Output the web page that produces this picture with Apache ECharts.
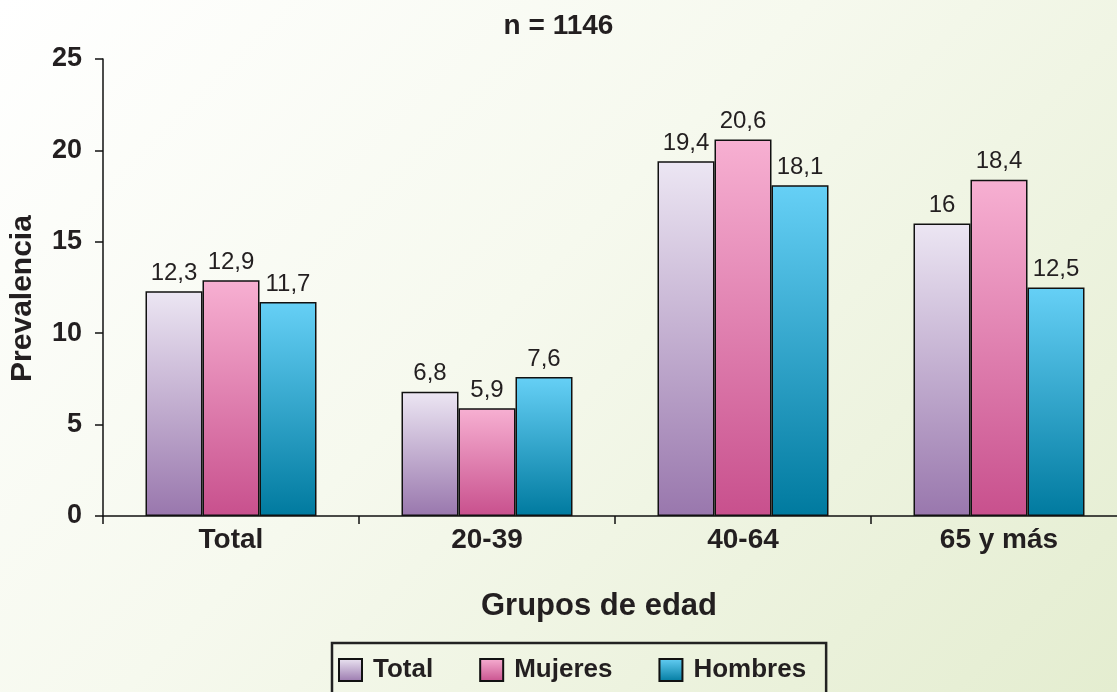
<!DOCTYPE html>
<html>
<head>
<meta charset="utf-8">
<style>
  html, body { margin: 0; padding: 0; }
  body {
    width: 1117px; height: 692px; overflow: hidden;
    background: linear-gradient(135deg, #ffffff 0%, #f6f9ee 45%, #e4edd0 100%);
  }
  #chart { width: 1117px; height: 692px; }
</style>
<script src="https://cdn.jsdelivr.net/npm/echarts@6/dist/echarts.min.js"></script>
</head>
<body>
<div id="chart"></div>
<script>
const categories = ['Total', '20-39', '40-64', '65 y más'];
const seriesNames = ['Total', 'Mujeres', 'Hombres'];
const totalValues = [12.3, 6.8, 19.4, 16];
const mujeresValues = [12.9, 5.9, 20.6, 18.4];
const hombresValues = [11.7, 7.6, 18.1, 12.5];
const yTicks = [0, 5, 10, 15, 20, 25];

const font = 'Liberation Sans, Arial, Helvetica, sans-serif';
const ink = '#231f20';

function grad(top, bottom) {
  return new echarts.graphic.LinearGradient(0, 0, 0, 1, [
    { offset: 0, color: top },
    { offset: 1, color: bottom }
  ]);
}

const fills = [
  grad('#ece6f3', '#9977ad'),
  grad('#f7b0d2', '#c8508d'),
  grad('#66d0f6', '#007a9f')
];

function barSeries(name, data, fill) {
  return {
    name: name,
    type: 'bar',
    data: data,
    barWidth: 57,
    barGap: '0%',
    itemStyle: { color: fill, borderColor: '#111', borderWidth: 1.5 },
    label: {
      show: true,
      position: 'top',
      distance: 6,
      color: ink,
      fontFamily: font,
      fontSize: 24,
      formatter: p => String(p.value).replace('.', ',')
    }
  };
}

const chart = echarts.init(document.getElementById('chart'), null, { renderer: 'canvas' });
chart.setOption({
  backgroundColor: 'transparent',
  animation: false,
  title: {
    text: 'n = 1146',
    left: 'center',
    top: 7,
    textStyle: { fontFamily: font, fontSize: 28, fontWeight: 'bold', color: ink }
  },
  legend: {
    data: seriesNames,
    left: 332,
    top: 643,
    padding: [14, 20, 14, 6],
    itemWidth: 23,
    itemHeight: 22,
    itemGap: 46,
    icon: 'rect',
    borderColor: '#222',
    borderWidth: 2.5,
    textStyle: { fontFamily: font, fontSize: 26, fontWeight: 'bold', color: ink, padding: [0, 0, 0, 6] },
    itemStyle: { borderColor: '#111', borderWidth: 2 }
  },
  grid: { left: 103, right: -10, top: 59, bottom: 176, outerBoundsMode: 'none' },
  xAxis: {
    type: 'category',
    data: categories,
    name: 'Grupos de edad',
    nameLocation: 'middle',
    nameGap: 75,
    nameTextStyle: { fontFamily: font, fontSize: 31, fontWeight: 'bold', color: ink, padding: [0, 32, 0, 0] },
    axisLine: { lineStyle: { color: '#111', width: 1.5 } },
    axisTick: { show: true, length: 8, lineStyle: { color: '#111', width: 1.5 } },
    axisLabel: { margin: 10, fontFamily: font, fontSize: 28, fontWeight: 'bold', color: ink }
  },
  yAxis: {
    type: 'value',
    min: yTicks[0],
    max: yTicks[yTicks.length - 1],
    interval: 5,
    name: 'Prevalencia',
    nameLocation: 'middle',
    nameGap: 65,
    nameRotate: 90,
    nameTextStyle: { fontFamily: font, fontSize: 30, fontWeight: 'bold', color: ink, padding: [0, 22, 0, 0] },
    splitLine: { show: false },
    axisLine: { show: true, lineStyle: { color: '#111', width: 1.5 } },
    axisTick: { show: true, length: 8, lineStyle: { color: '#111', width: 1.5 } },
    axisLabel: { margin: 21, fontFamily: font, fontSize: 27, fontWeight: 'bold', color: ink }
  },
  series: [
    barSeries(seriesNames[0], totalValues, fills[0]),
    barSeries(seriesNames[1], mujeresValues, fills[1]),
    barSeries(seriesNames[2], hombresValues, fills[2])
  ]
});
</script>
</body>
</html>
